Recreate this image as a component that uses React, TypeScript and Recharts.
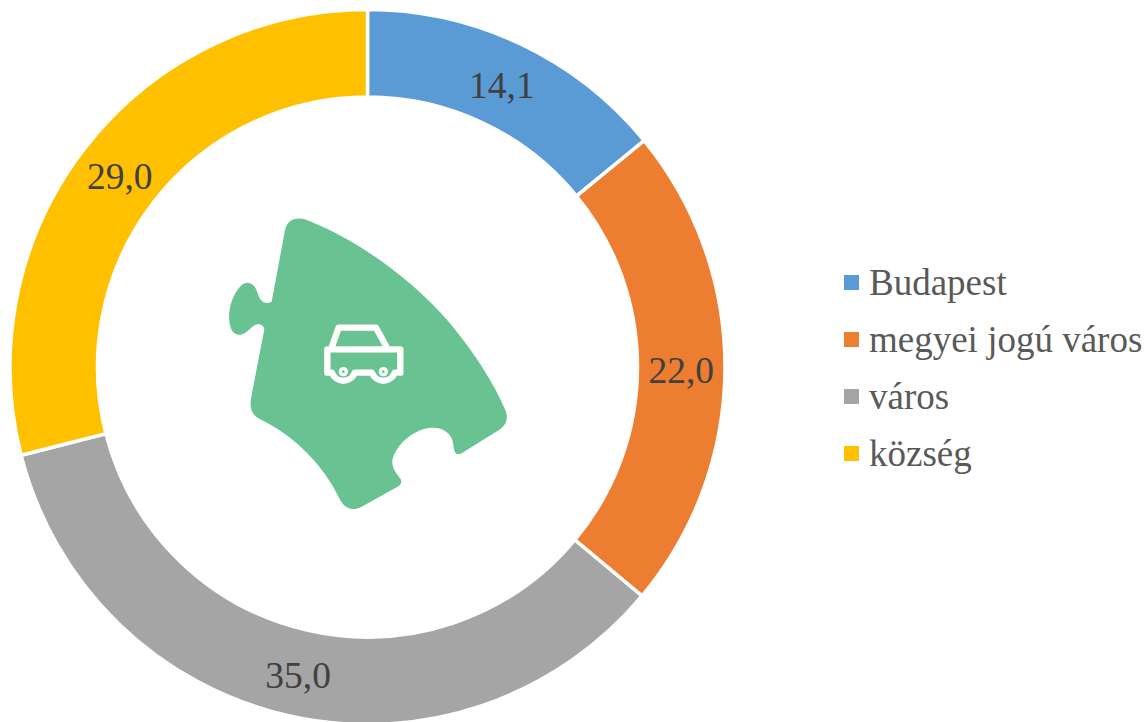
import { PieChart, Pie, Cell, Legend } from "recharts";

const categories = ["Budapest", "megyei jogú város", "város", "község"];
const shares = [14.1, 22.0, 35.0, 29.0];
const COLORS = ["#5B9BD5", "#ED7D31", "#A5A5A5", "#FFC000"];

const data = categories.map((name, i) => ({ name, value: shares[i] }));

const FONT = '"Liberation Serif", "Times New Roman", serif';
const RAD = Math.PI / 180;

function renderLabel({ cx, cy, midAngle, innerRadius, outerRadius, value }: any) {
  const r = (innerRadius + outerRadius) / 2;
  const x = cx + r * Math.cos(-midAngle * RAD);
  const y = cy + r * Math.sin(-midAngle * RAD);
  return (
    <text
      x={x}
      y={y + 2.5}
      textAnchor="middle"
      dominantBaseline="central"
      fontFamily={FONT}
      fontSize={37.5}
      fill="#404040"
    >
      {value.toFixed(1).replace(".", ",")}
    </text>
  );
}

function renderLegend({ payload }: any) {
  return (
    <div style={{ fontFamily: FONT }}>
      {(payload ?? []).map((entry: any, i: number) => (
        <div
          key={i}
          style={{
            display: "flex",
            alignItems: "center",
            height: 57,
            fontSize: 37,
            color: "#595959",
            whiteSpace: "nowrap",
          }}
        >
          <span
            style={{
              width: 15,
              height: 15,
              marginRight: 10,
              background: COLORS[i],
              flex: "none",
            }}
          />
          {entry.value}
        </div>
      ))}
    </div>
  );
}

// puzzle piece with the car, traced in zoomed-in coordinates
function PuzzleCar() {
  return (
    <svg
      viewBox="0 0 900 930"
      width={300}
      height={310}
      style={{ position: "absolute", left: 220, top: 210 }}
    >
      <path
        fill="#69C291"
        d="M195 60 C202 30 225 20 255 28 C400 85 560 190 690 340 C760 425 820 515 858 605
           C866 630 855 650 832 663 L725 730 C710 737 702 730 700 705
           C698 675 675 652 635 653 C585 655 530 700 517 750 C515 775 530 790 542 808
           C547 818 542 826 530 832 L425 890 C395 905 372 895 358 865
           C310 765 225 680 125 630 C98 618 88 600 93 565 L133 358
           C130 340 110 338 95 352 C75 375 50 385 35 360 C18 325 30 260 62 228
           C85 208 105 222 113 250 C120 275 135 285 155 275 Z"
      />
      <g fill="none" stroke="#fff" strokeWidth={19} strokeLinejoin="round">
        <path d="M335 412 L356 353 L468 353 L500 412" />
        <path d="M322 418 H541 V488 H524 A36 36 0 0 1 456 488 H404 A36 36 0 0 1 336 488 H322 Z" />
        <circle cx={370} cy={485} r={9} strokeWidth={10} />
        <circle cx={490} cy={485} r={9} strokeWidth={10} />
      </g>
    </svg>
  );
}

export default function App() {
  return (
    <div
      style={{
        position: "absolute",
        left: 0,
        top: 0,
        width: 1148,
        height: 722,
        overflow: "hidden",
        background: "#fff",
      }}
    >
      <PieChart width={1148} height={722} margin={{ top: 0, right: 0, bottom: 0, left: 0 }}>
        <Pie
          data={data}
          dataKey="value"
          nameKey="name"
          cx={367.5}
          cy={367}
          innerRadius={270}
          outerRadius={357.5}
          startAngle={90}
          endAngle={-270}
          stroke="#fff"
          strokeWidth={3.5}
          label={renderLabel}
          labelLine={false}
          isAnimationActive={false}
        >
          {data.map((_, i) => (
            <Cell key={i} fill={COLORS[i]} />
          ))}
        </Pie>
        <Legend
          layout="vertical"
          align="right"
          verticalAlign="middle"
          itemSorter={null}
          content={renderLegend}
          wrapperStyle={{ left: 844, top: 254, width: 304 }}
        />
      </PieChart>
      <PuzzleCar />
    </div>
  );
}
